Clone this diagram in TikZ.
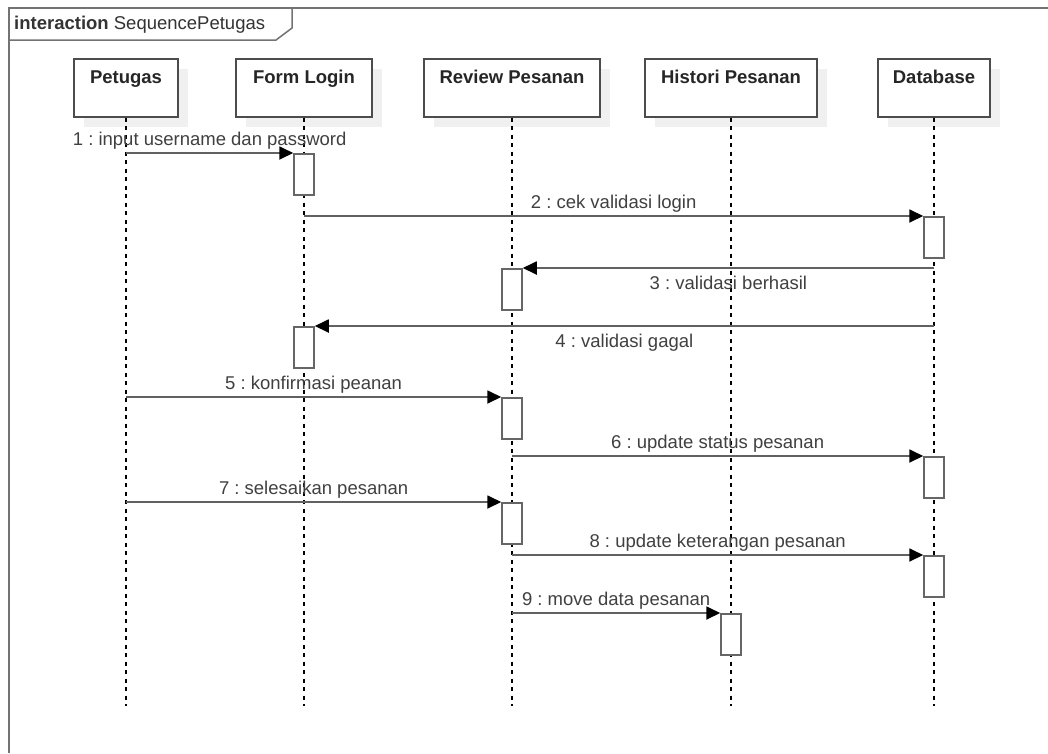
\documentclass[tikz,border=0pt]{standalone}
\usepackage{fontspec}
\setmainfont{Liberation Sans}
\usepackage{xcolor}
\usepackage{tikz}
\usetikzlibrary{arrows.meta,shadows}
\frenchspacing

\begin{document}
\begin{tikzpicture}[
  x=1pt, y=-1pt,
  font=\fontsize{18.5}{22}\selectfont,
  head/.style={draw=black!70, fill=white, line width=1.5pt, anchor=north, minimum height=58pt,
    inner ysep=10pt, text height=15pt, text depth=23pt, font=\fontsize{18.5}{22}\selectfont\bfseries,
    text=black!85, general shadow={fill=black!6, shadow xshift=10pt, shadow yshift=-10pt}},
  act/.style={draw=black!60, fill=white, line width=1.5pt, anchor=north, minimum width=20pt,
    minimum height=41pt, inner sep=0pt},
  lifeline/.style={black, line width=1.3pt, dash pattern=on 4pt off 4.5pt},
  msg/.style={draw=black!62, line width=1.8pt, -{Triangle[length=14pt,width=13pt,color=black]}},
  lbl/.style={text=black!75, midway, anchor=base, yshift=8pt, inner sep=0pt},
  lblb/.style={text=black!75, midway, anchor=base, yshift=-21pt, inner sep=0pt},
  frame/.style={draw=black!55, line width=2pt}
]
\useasboundingbox[fill=white] (0,0) rectangle (1048,753);

% frame and tab
\draw[frame] (9,753) -- (9,8) -- (1048,8);
\node[anchor=base west, inner sep=0pt, text=black!80] (title) at (14,29) {\textbf{interaction} SequencePetugas};
\draw[frame, line width=1.5pt] (9,40) -- (276,40) -- (292,28) -- (292,8);

% lifeline heads
\node[head, minimum width=104pt] (pet) at (126,58) {Petugas};
\node[head, minimum width=136pt] (flogin) at (304,58) {Form Login};
\node[head, minimum width=176pt] (review) at (512,58) {Review Pesanan};
\node[head, minimum width=172pt] (hist) at (731,58) {Histori Pesanan};
\node[head, minimum width=112pt] (db) at (934,58) {Database};

\coordinate (bottom) at (0,706);
\foreach \n in {pet,flogin,review,hist,db}
  \draw[lifeline] (\n.south) -- (\n.south |- bottom);

% activations
\node[act] (a1) at (304,153) {};
\node[act] (a2) at (934,216) {};
\node[act] (a3) at (512,268) {};
\node[act] (a4) at (304,326) {};
\node[act] (a5) at (512,397) {};
\node[act] (a6) at (934,456) {};
\node[act] (a7) at (512,502) {};
\node[act] (a8) at (934,555) {};
\node[act] (a9) at (731,613) {};

% messages
\draw[msg] (pet |- a1.north) -- node[lbl] {1 : input username dan password} (a1.north west);
\draw[msg] (flogin |- a2.north) -- node[lbl] {2 : cek validasi login} (a2.north west);
\draw[msg] (db |- a3.north) -- node[lblb] {3 : validasi berhasil} (a3.north east);
\draw[msg] (db |- a4.north) -- node[lblb] {4 : validasi gagal} (a4.north east);
\draw[msg] (pet |- a5.north) -- node[lbl] {5 : konfirmasi peanan} (a5.north west);
\draw[msg] (review |- a6.north) -- node[lbl] {6 : update status pesanan} (a6.north west);
\draw[msg] (pet |- a7.north) -- node[lbl] {7 : selesaikan pesanan} (a7.north west);
\draw[msg] (review |- a8.north) -- node[lbl] {8 : update keterangan pesanan} (a8.north west);
\draw[msg] (review |- a9.north) -- node[lbl] {9 : move data pesanan} (a9.north west);
\end{tikzpicture}
\end{document}
